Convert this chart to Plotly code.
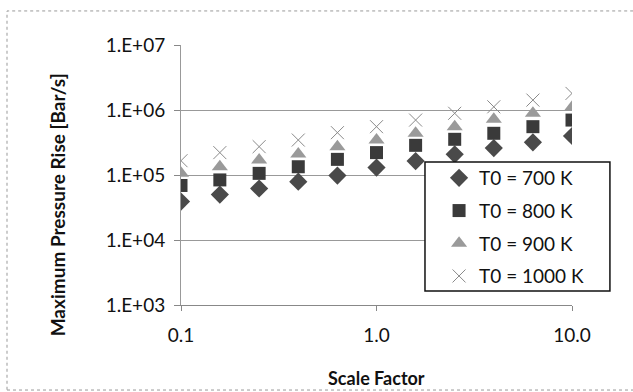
import plotly.graph_objects as go

scale_factor = [0.1, 0.158, 0.251, 0.398, 0.631, 1.0, 1.585, 2.512, 3.981, 6.31, 10.0]
t700 = [3.9e4, 5.0e4, 6.2e4, 7.9e4, 9.8e4, 1.30e5, 1.64e5, 2.08e5, 2.6e5, 3.18e5, 3.98e5]
t800 = [6.9e4, 8.4e4, 1.06e5, 1.34e5, 1.74e5, 2.21e5, 2.86e5, 3.54e5, 4.38e5, 5.54e5, 7.0e5]
t900 = [1.06e5, 1.34e5, 1.70e5, 2.1e5, 2.73e5, 3.45e5, 4.38e5, 5.54e5, 7.2e5, 8.9e5, 1.1e6]
t1000 = [1.66e5, 2.21e5, 2.73e5, 3.45e5, 4.48e5, 5.54e5, 7.0e5, 8.9e5, 1.12e6, 1.42e6, 1.8e6]

series_names = ["T0 = 700 K", "T0 = 800 K", "T0 = 900 K", "T0 = 1000 K"]
y_tickvals = [1e3, 1e4, 1e5, 1e6, 1e7]
y_ticktext = ["1.E+03", "1.E+04", "1.E+05", "1.E+06", "1.E+07"]
x_tickvals = [0.1, 1, 10]
x_ticktext = ["0.1", "1.0", "10.0"]

FONT = "Lato, 'Open Sans', sans-serif"

fig = go.Figure()
styles = [
    dict(symbol="diamond", size=14, color="#4a4a4a", line=dict(width=0)),
    dict(symbol="square", size=13, color="#3a3a3a", line=dict(width=0)),
    dict(symbol="triangle-up", size=14, color="#9a9a9a", line=dict(width=0)),
    dict(symbol="x-thin-open", size=13, color="#8a8a8a", line=dict(width=1, color="#8a8a8a")),
]
for i, (name, ys) in enumerate(zip(series_names, [t700, t800, t900, t1000])):
    fig.add_trace(go.Scatter(
        x=scale_factor, y=ys, mode="markers", name=name,
        marker=styles[i], legendgroup=str(i),
    ))

fig.update_layout(
    width=633, height=392,
    margin=dict(l=181, r=61, t=45, b=87),
    paper_bgcolor="white", plot_bgcolor="white",
    font=dict(family=FONT, size=19, color="#111"),
    showlegend=True,
    legend=dict(
        x=0.66, y=0.5615, xanchor="left", yanchor="top",
        borderwidth=0, bgcolor="rgba(0,0,0,0)",
        font=dict(size=19), tracegroupgap=5, traceorder="grouped",
        itemwidth=30,
    ),
)
fig.update_xaxes(
    type="log", range=[-1, 1], tickvals=x_tickvals, ticktext=x_ticktext,
    showgrid=False, showline=True, linecolor="#888", linewidth=1,
    ticks="outside", ticklen=5, tickcolor="#888", ticklabelstandoff=8,
    zeroline=False,
)
fig.update_yaxes(
    type="log", range=[3, 7], tickvals=y_tickvals, ticktext=y_ticktext,
    showgrid=True, gridcolor="#999", gridwidth=1,
    showline=True, linecolor="#999", linewidth=1,
    ticks="outside", ticklen=6, tickcolor="#888", ticklabelstandoff=5,
    zeroline=False,
)
# axis titles
fig.add_annotation(text="<b>Scale Factor</b>", xref="paper", yref="paper",
                   x=0.5, y=-0.28, yanchor="middle", showarrow=False,
                   font=dict(size=18, family=FONT))
fig.add_annotation(text="<b>Maximum Pressure Rise [Bar/s]</b>", xref="paper", yref="paper",
                   x=-0.316, y=0.385, textangle=-90, xanchor="center", yanchor="middle",
                   showarrow=False, font=dict(size=19, family=FONT))
# legend box
fig.add_shape(type="rect", xref="paper", yref="paper",
              x0=0.624, x1=1.097, y0=0.054, y1=0.55,
              line=dict(color="#111", width=1.5), fillcolor="white", layer="above")
# outer chart border
fig.add_shape(type="rect", xref="paper", yref="paper",
              x0=-0.445, x1=1.16, y0=-0.327, y1=1.131,
              line=dict(color="#999", width=1, dash="dot"))

fig.write_html("out.html", config={"displayModeBar": False},
               post_script="document.body.style.margin='0';")
